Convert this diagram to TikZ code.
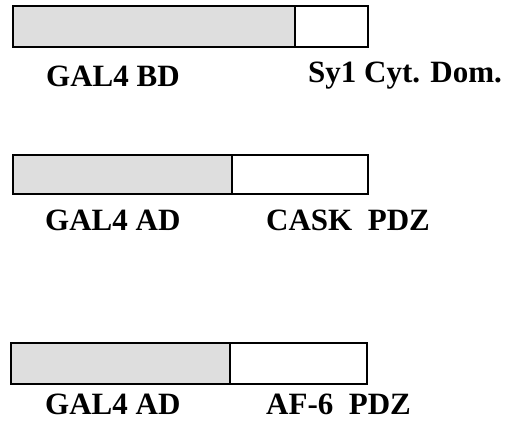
\documentclass[tikz,border=0pt]{standalone}
\usepackage{fontspec}
\setmainfont{Liberation Serif}
\usetikzlibrary{positioning}
\tikzset{
    raw part/.style={rectangle, draw, line width=1.4pt, inner sep=0pt, outer sep=0pt},
    domain gray/.style={raw part, fill=black!13, anchor=west},
    domain white/.style={raw part, fill=white},
    part label/.style={font=\fontsize{31}{33}\selectfont\bfseries, anchor=west, inner sep=0pt}
}
\begin{document}
\begin{tikzpicture}[x=1pt,y=-1pt]
	\useasboundingbox (0,0) rectangle (507,426);
	% bait
	\node[domain gray, minimum width=282pt, minimum height=41pt] (bd) at (13,26.5) {};
	\node[domain white, minimum width=73pt, minimum height=41pt, right=0pt of bd] (syt) {};
	\node[part label] (bdtext) at (46,76) {GAL4 BD};
	\node[part label] (syttext) at (308,76) {Sy1 Cyt. Dom.};
	% prey 1
	\node[domain gray, minimum width=219pt, minimum height=39pt] (ad1) at (13,174.5) {};
	\node[domain white, minimum width=136pt, minimum height=39pt, right=0pt of ad1] (cask) {};
	\node[part label] (ad1text) at (45,220) {GAL4 AD};
	\node[part label] (casktext) at (266,220) {CASK\ \ PDZ};
	% prey 2
	\node[domain gray, minimum width=219pt, minimum height=41pt] (ad2) at (11,363.5) {};
	\node[domain white, minimum width=137pt, minimum height=41pt, right=0pt of ad2] (af) {};
	\node[part label] (ad2text) at (45,404) {GAL4 AD};
	\node[part label] (aftext) at (266,404) {AF-6\ \ PDZ};
\end{tikzpicture}
\end{document}
